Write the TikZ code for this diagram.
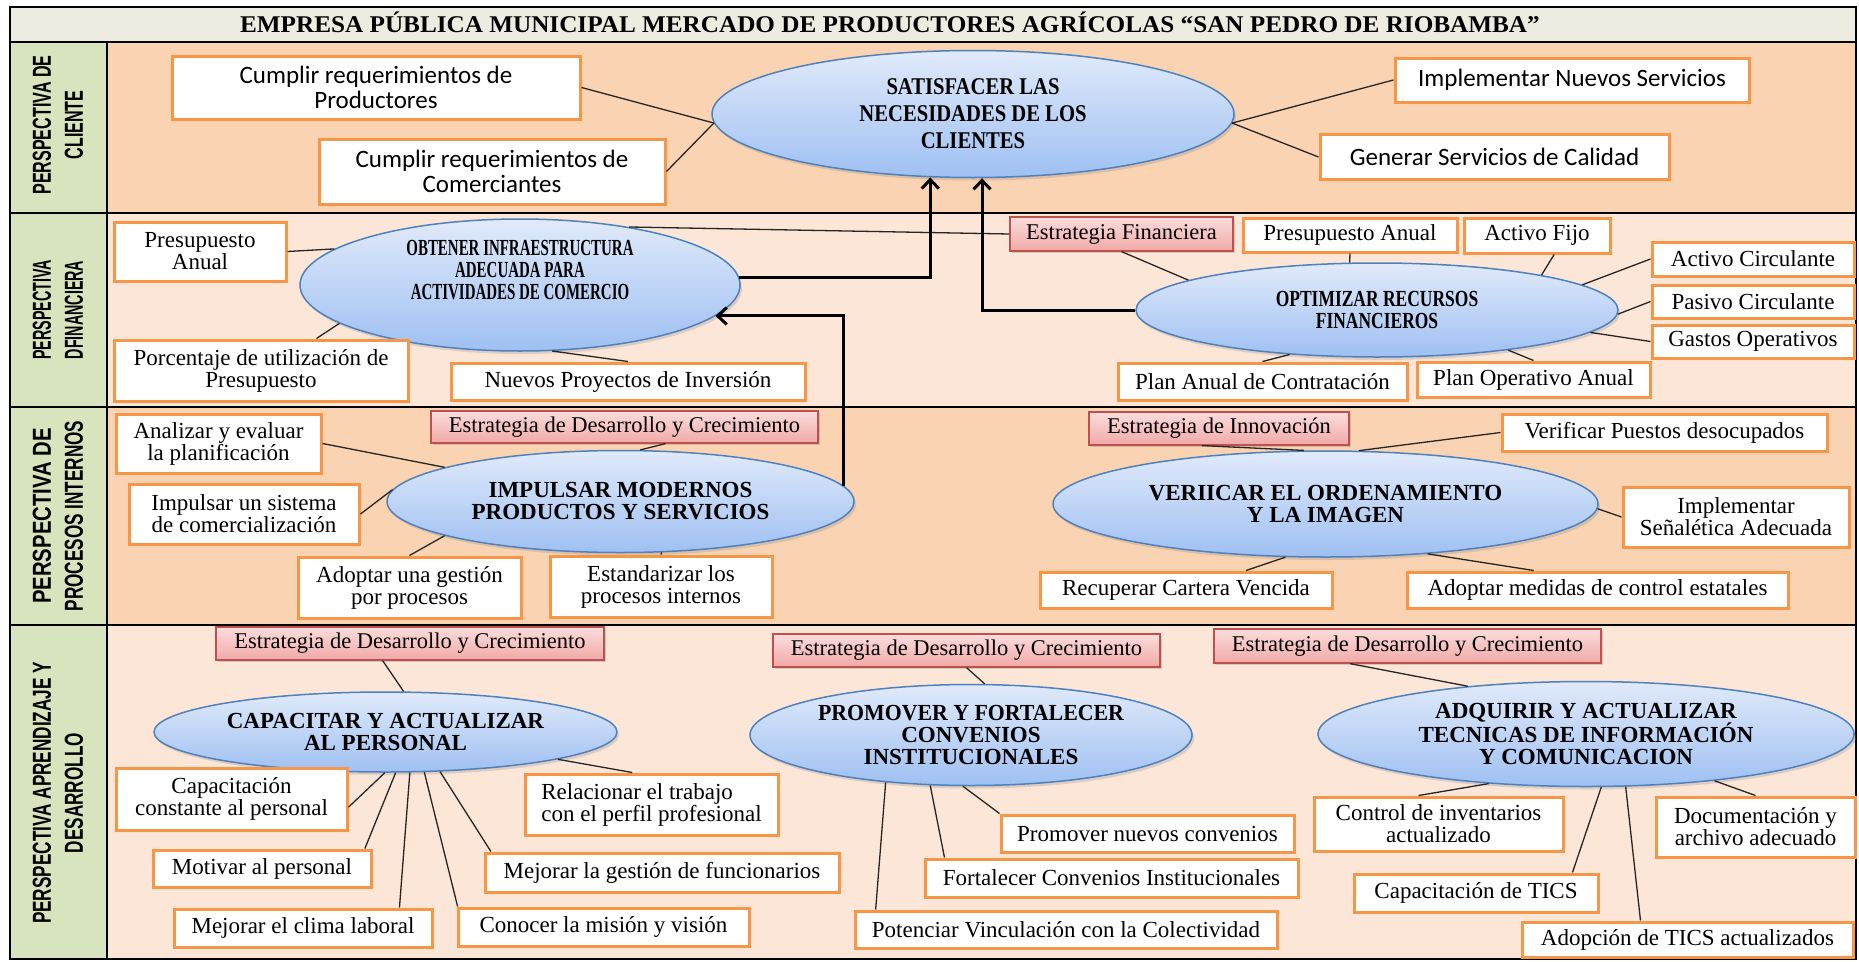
\documentclass[tikz,border=0pt]{standalone}
\usepackage{graphicx}
\usepackage{fontspec}
\setmainfont{Liberation Serif}
\newfontfamily\calfont{Carlito}
\newfontfamily\lanefont{Liberation Sans}
\newfontfamily\headfont[FakeStretch=1.05]{Liberation Serif}
\usetikzlibrary{shapes.geometric,shadows,arrows.meta}

\definecolor{headfill}{HTML}{EEECE1}
\definecolor{colfill}{HTML}{D7E4BD}
\definecolor{lanedark}{HTML}{F9D3B2}
\definecolor{lanelight}{HTML}{FCE6D7}
\definecolor{boxorange}{HTML}{F79646}
\definecolor{pinkline}{HTML}{C0504D}
\definecolor{pinktop}{HTML}{FBDDDC}
\definecolor{pinkbot}{HTML}{F0A9A7}
\definecolor{ellline}{HTML}{4F81BD}
\definecolor{elltop}{HTML}{E0EAFA}
\definecolor{ellbot}{HTML}{9FC0F2}

% horizontally condensed line of text
\newcommand{\narrow}[2]{\scalebox{#1}[1]{#2}}

\begin{document}
\begin{tikzpicture}[x=1pt,y=-1pt,
  obox/.style={draw=boxorange, line width=3pt, fill=white, inner sep=0pt,
    align=center, font=\fontsize{23}{22}\selectfont},
  cbox/.style={obox, font=\calfont\fontsize{25}{25}\selectfont},
  pbox/.style={draw=pinkline, line width=1.2pt, top color=pinktop, bottom color=pinkbot,
    inner sep=0pt, align=center, font=\fontsize{22.5}{22}\selectfont,
    drop shadow={shadow xshift=2pt, shadow yshift=-2pt, opacity=0.3}},
  goal/.style={ellipse, draw=ellline, line width=1.5pt, top color=elltop, bottom color=ellbot,
    inner sep=0pt, align=center, font=\bfseries\fontsize{23}{22}\selectfont,
    drop shadow={shadow xshift=2pt, shadow yshift=-3pt, opacity=0.25}},
  lanelabel/.style={rotate=90, align=center, font=\lanefont\bfseries\fontsize{26}{32}\selectfont},
  link/.style={draw=black!85, line width=1.3pt},
  bigarrow/.style={draw=black, line width=3pt, -{Straight Barb[length=9pt,width=17pt]}}
]
\useasboundingbox (0,0) rectangle (1859,961);

% ---- lanes and frame ----
\fill[headfill] (10,7) rectangle (1856,42);
\fill[lanedark]  (107,42)  rectangle (1856,213);
\fill[lanelight] (107,213) rectangle (1856,407);
\fill[lanedark]  (107,407) rectangle (1856,625);
\fill[lanelight] (107,625) rectangle (1856,959);
\fill[colfill] (10,42) rectangle (107,959);
\draw[line width=1.5pt] (10,42) -- (1856,42);
\draw[line width=1.5pt] (10,213) -- (1856,213);
\draw[line width=1.5pt] (10,407) -- (1856,407);
\draw[line width=1.5pt] (10,625) -- (1856,625);
\draw[line width=1.5pt] (107,42) -- (107,959);
\draw[line width=2.2pt] (10,7) rectangle (1856,959);

\node[font=\headfont\bfseries\fontsize{24}{24}\selectfont] (title) at (890,22)
  {EMPRESA PÚBLICA MUNICIPAL MERCADO DE PRODUCTORES AGRÍCOLAS “SAN PEDRO DE RIOBAMBA”};

\node[lanelabel] (lab1) at (58,125) {\narrow{0.62}{PERSPECTIVA DE}\\\narrow{0.62}{CLIENTE}};
\node[lanelabel] (lab2) at (58,310) {\narrow{0.55}{PERSPECTIVA}\\\narrow{0.55}{DFINANCIERA}};
\node[lanelabel] (lab3) at (58,516) {\narrow{0.78}{PERSPECTIVA DE}\\\narrow{0.66}{PROCESOS INTERNOS}};
\node[lanelabel] (lab4) at (58,793) {\narrow{0.66}{PERSPECTIVA APRENDIZAJE Y}\\\narrow{0.66}{DESARROLLO}};

% ---- perspectiva de cliente ----
\node[cbox, minimum width=408pt, minimum height=63pt] (prod) at (376,87.5) {Cumplir requerimientos de\\Productores};
\node[cbox, minimum width=346pt, minimum height=65pt] (com) at (492,171.5) {Cumplir requerimientos de\\Comerciantes};
\node[goal, font=\bfseries\fontsize{24}{27}\selectfont, minimum width=522pt, minimum height=127pt] (sat) at (973,114)
  {\narrow{0.86}{SATISFACER LAS}\\\narrow{0.86}{NECESIDADES DE LOS}\\\narrow{0.86}{CLIENTES}};
\node[cbox, minimum width=354pt, minimum height=44pt] (nserv) at (1572,80) {Implementar Nuevos Servicios};
\node[cbox, minimum width=349pt, minimum height=45pt] (calid) at (1494.5,157) {Generar Servicios de Calidad};

\draw[link] (prod.east) -- (sat.182);
\draw[link] (com.east) -- (sat.182);
\draw[link] (sat.-2) -- (nserv.west);
\draw[link] (sat.-2) -- (calid.west);

% ---- perspectiva financiera ----
\node[obox, minimum width=172pt, minimum height=59pt] (pa1) at (200,251.5) {Presupuesto\\Anual};
\node[goal, text depth=30pt, minimum width=440pt, minimum height=132pt] (obt) at (520,285)
  {\narrow{0.65}{OBTENER INFRAESTRUCTURA}\\\narrow{0.65}{ADECUADA PARA}\\\narrow{0.65}{ACTIVIDADES DE COMERCIO}};
\node[obox, minimum width=294pt, minimum height=61pt] (por) at (261,370.5) {Porcentaje de utilización de\\Presupuesto};
\node[obox, minimum width=354pt, minimum height=37pt] (nue) at (628,381.5) {Nuevos Proyectos de Inversión};

\node[pbox, minimum width=223pt, minimum height=34pt] (ef) at (1121.5,234) {Estrategia Financiera};
\node[obox, minimum width=214pt, minimum height=34pt] (pa2) at (1350,235) {Presupuesto Anual};
\node[obox, minimum width=146pt, minimum height=35pt] (af) at (1537,235.5) {Activo Fijo};
\node[obox, minimum width=202pt, minimum height=34pt] (ac) at (1753,259) {Activo Circulante};
\node[obox, minimum width=202pt, minimum height=33pt] (pc) at (1753,301.5) {Pasivo Circulante};
\node[obox, minimum width=202pt, minimum height=33pt] (go) at (1753,341.5) {Gastos Operativos};
\node[goal, minimum width=482pt, minimum height=94pt] (opt) at (1377,310)
  {\narrow{0.76}{OPTIMIZAR RECURSOS}\\\narrow{0.76}{FINANCIEROS}};
\node[obox, minimum width=289pt, minimum height=37pt] (paco) at (1262.5,381.5) {Plan Anual de Contratación};
\node[obox, minimum width=233pt, minimum height=35pt] (poa) at (1533.5,379.5) {Plan Operativo Anual};

\draw[link] (pa1.east) -- (obt.169.8);
\draw[link] (por.30.3) -- (obt.192.7);
\draw[link] (nue.north) -- (obt.-64.6);
\draw[link] (ef.west) -- (obt.28);
\draw[link] (ef.south) -- (opt.171.1);
\draw[link] (pa2.south) -- (opt.120);
\draw[link] (af.-48) -- (opt.12.7);
\draw[link] (ac.west) -- (opt.7.8);
\draw[link] (pc.west) -- (opt.-1);
\draw[link] (go.west) -- (opt.-6.8);
\draw[link] (paco.north) -- (opt.207.4);
\draw[link] (poa.north) -- (opt.-17.6);

% ---- perspectiva de procesos internos ----
\node[obox, minimum width=205pt, minimum height=59pt] (ana) at (218.5,443.5) {Analizar y evaluar\\la planificación};
\node[pbox, minimum width=387pt, minimum height=32pt] (dc1) at (624.5,427) {Estrategia de Desarrollo y Crecimiento};
\node[obox, minimum width=230pt, minimum height=60pt] (isc) at (244,514) {Impulsar un sistema\\de comercialización};
\node[goal, minimum width=467pt, minimum height=102pt] (imp) at (620.5,501.5) {IMPULSAR MODERNOS\\PRODUCTOS Y SERVICIOS};
\node[obox, minimum width=223pt, minimum height=61pt] (agp) at (409.5,587.5) {Adoptar una gestión\\por procesos};
\node[obox, minimum width=222pt, minimum height=61pt] (est) at (661,586.5) {Estandarizar los\\procesos internos};

\node[pbox, minimum width=260pt, minimum height=33pt] (inn) at (1219,428.5) {Estrategia de Innovación};
\node[obox, minimum width=325pt, minimum height=37pt] (vpd) at (1664.5,432.5) {Verificar Puestos desocupados};
\node[goal, minimum width=545pt, minimum height=106pt] (ver) at (1325.5,504) {VERIICAR EL ORDENAMIENTO\\Y LA IMAGEN};
\node[obox, minimum width=226pt, minimum height=60pt] (ise) at (1736,517) {Implementar\\Señalética Adecuada};
\node[obox, minimum width=292pt, minimum height=36pt] (rcv) at (1186,590) {Recuperar Cartera Vencida};
\node[obox, minimum width=381pt, minimum height=36pt] (amc) at (1597.5,590) {Adoptar medidas de control estatales};

\draw[link] (ana.east) -- (imp.169.2);
\draw[link] (isc.east) -- (imp.177.6);
\draw[link] (agp.north) -- (imp.191.4);
\draw[link] (est.north) -- (imp.-51.7);
\draw[link] (dc1.-22) -- (imp.69);
\draw[link] (inn.225.9) -- (ver.112.2);
\draw[link] (vpd.west) -- (ver.58.5);
\draw[link] (ise.west) -- (ver.-1.9);
\draw[link] (rcv.18.8) -- (ver.233);
\draw[link] (amc.163.9) -- (ver.-26.9);

% ---- perspectiva aprendizaje y desarrollo ----
\node[pbox, minimum width=388pt, minimum height=33pt] (dc2) at (410,643.5) {Estrategia de Desarrollo y Crecimiento};
\node[goal, minimum width=463pt, minimum height=80pt] (cap) at (385.5,732) {CAPACITAR Y ACTUALIZAR\\AL PERSONAL};
\node[obox, minimum width=231pt, minimum height=62pt] (cpe) at (231.5,799) {Capacitación\\constante al personal};
\node[obox, align=left, minimum width=253pt, minimum height=61pt] (rel) at (651.5,804.5) {Relacionar el trabajo\\con el perfil profesional};
\node[obox, minimum width=218pt, minimum height=37pt] (mot) at (262,868.5) {Motivar al personal};
\node[obox, minimum width=354pt, minimum height=39pt] (mgf) at (662,872.5) {Mejorar la gestión de funcionarios};
\node[obox, minimum width=258pt, minimum height=38pt] (mcl) at (303,928) {Mejorar el clima laboral};
\node[obox, minimum width=291pt, minimum height=38pt] (cmv) at (603.5,927) {Conocer la misión y visión};

\draw[link] (dc2.212) -- (cap.66.9);
\draw[link] (cpe.-4.5) -- (cap.269);
\draw[link] (mot.11.1) -- (cap.-76.6);
\draw[link] (mcl.12.2) -- (cap.-59.6);
\draw[link] (cmv.172) -- (cap.-46.8);
\draw[link] (mgf.173.6) -- (cap.-36.8);
\draw[link] (rel.121.6) -- (cap.-9.6);

\node[pbox, minimum width=387pt, minimum height=33pt] (dc3) at (966.5,650.5) {Estrategia de Desarrollo y Crecimiento};
\node[goal, minimum width=442pt, minimum height=101pt] (pro) at (971,735)
  {\narrow{0.95}{PROMOVER Y FORTALECER}\\CONVENIOS\\INSTITUCIONALES};
\node[obox, minimum width=293pt, minimum height=37pt] (pnc) at (1147.5,833.5) {Promover nuevos convenios};
\node[obox, minimum width=373pt, minimum height=38pt] (fci) at (1111.5,878) {Fortalecer Convenios Institucionales};
\node[obox, minimum width=422pt, minimum height=37pt] (pvc) at (1066,929.5) {Potenciar Vinculación con la Colectividad};

\draw[link] (dc3.south) -- (pro.75.5);
\draw[link] (pvc.174.1) -- (pro.209.1);
\draw[link] (fci.173) -- (pro.231.2);
\draw[link] (pnc.north west) -- (pro.261);

\node[pbox, minimum width=387pt, minimum height=34pt] (dc4) at (1407.5,646) {Estrategia de Desarrollo y Crecimiento};
\node[goal, minimum width=536pt, minimum height=105pt] (adq) at (1586,734) {ADQUIRIR Y ACTUALIZAR\\TECNICAS DE INFORMACIÓN\\Y COMUNICACION};
\node[obox, minimum width=249pt, minimum height=54pt] (cin) at (1438.5,824) {Control de inventarios\\actualizado};
\node[obox, minimum width=199pt, minimum height=60pt] (doc) at (1755.5,827) {Documentación y\\archivo adecuado};
\node[obox, minimum width=244pt, minimum height=38pt] (ctc) at (1476,893) {Capacitación de TICS};
\node[obox, minimum width=331pt, minimum height=35pt] (ata) at (1687.5,939.5) {Adopción de TICS actualizados};

\draw[link] (dc4.197.6) -- (adq.158.7);
\draw[link] (cin.125.8) -- (adq.207.6);
\draw[link] (ctc.12.6) -- (adq.-74);
\draw[link] (ata.158.1) -- (adq.-53.8);
\draw[link] (doc.north) -- (adq.-20.2);

% ---- relations between objectives ----
\draw[bigarrow] (obt.2.6) -| (sat.236.2);
\draw[bigarrow] (opt.west) -| (sat.278.1);
\draw[bigarrow] (imp.4.9) |- (obt.-9.8);
\end{tikzpicture}
\end{document}
